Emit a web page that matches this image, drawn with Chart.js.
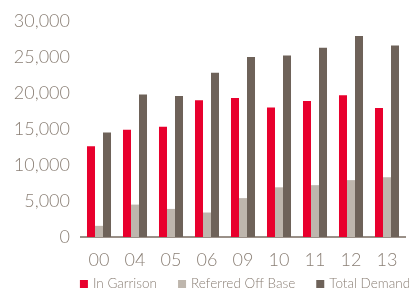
<!DOCTYPE html>
<html><head><meta charset="utf-8">
<script src="https://cdn.jsdelivr.net/npm/chart.js@4"></script>
<style>html,body{margin:0;padding:0;background:#fff}#wrap{width:409px;height:291px;position:relative}</style>
</head><body><div id="wrap"><canvas id="c" width="409" height="291"></canvas></div>
<script>
const categories = ["00","04","05","06","09","10","11","12","13"];
const inGarrison = [12600,14900,15300,19000,19300,18000,18900,19700,17900];
const referredOffBase = [1550,4500,3900,3400,5400,6900,7200,7900,8300];
const totalDemand = [14500,19800,19600,22800,25000,25200,26300,27900,26600];
const yTicks = [0,5000,10000,15000,20000,25000,30000];

const FONT = "Lato";
const TXT = "#8A7F75";

const legendPlugin = {
  id:'customLegend',
  afterDraw(chart){
    const ctx = chart.ctx;
    ctx.save();
    ctx.font = "300 13.5px " + FONT;
    const items = chart.data.datasets.map(d=>({label:d.label,color:d.backgroundColor,w:ctx.measureText(d.label).width}));
    const box=8, gapText=5, gapItem=21;
    const total = items.reduce((a,it)=>a+box+gapText+it.w,0)+gapItem*(items.length-1);
    const ca = chart.chartArea;
    let x = (ca.left+ca.right)/2 - total/2 + 2;
    const yc = 284;
    ctx.textBaseline='middle';
    items.forEach(it=>{
      ctx.fillStyle=it.color;
      ctx.fillRect(x, yc-4, box, box);
      x += box+gapText;
      ctx.fillStyle=TXT;
      ctx.fillText(it.label, x, yc);
      x += it.w+gapItem;
    });
    ctx.restore();
  }
};

new Chart(document.getElementById('c'), {
  type: 'bar',
  data: {
    labels: categories,
    datasets: [
      {label:"In Garrison", data: inGarrison, backgroundColor:"#E8002D"},
      {label:"Referred Off Base", data: referredOffBase, backgroundColor:"#BEB6AD"},
      {label:"Total Demand", data: totalDemand, backgroundColor:"#6E6259"}
    ]
  },
  plugins:[legendPlugin],
  options: {
    responsive:false, animation:false,
    layout:{padding:{top:21,right:4,left:0,bottom:0}},
    datasets:{bar:{categoryPercentage:0.667,barPercentage:1}},
    plugins:{
      tooltip:{enabled:false},
      legend:{display:false}
    },
    scales:{
      x:{grid:{display:false},border:{display:true,color:"#9A9088",width:2},
        afterFit:(s)=>{s.height=54;},
        ticks:{color:TXT,padding:4,font:{family:FONT,size:18,weight:'300'}}},
      y:{min:0,max:30000,afterBuildTicks:(s)=>{s.ticks=yTicks.map(v=>({value:v}));},
        afterFit:(s)=>{s.width=81;},
        grid:{display:false},border:{display:false},
        ticks:{color:TXT,padding:3,font:{family:FONT,size:18,weight:'300'},
          callback:(v)=>v.toLocaleString('en-US')}}
    }
  }
});
</script></body></html>
